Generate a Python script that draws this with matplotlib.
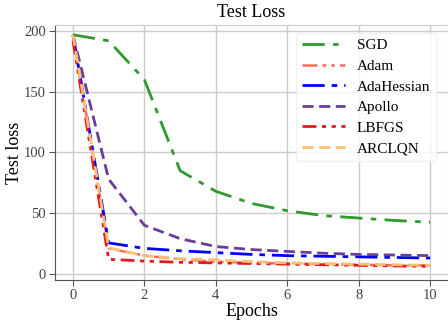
import matplotlib
matplotlib.use("Agg")
import matplotlib.pyplot as plt

epochs = list(range(11))
sgd = [197, 192, 160, 85, 68, 58, 52, 48, 46, 44, 42.5]
adam = [197, 21, 15, 12, 10, 9, 8.5, 8, 7.5, 7, 7]
adahessian = [197, 25.5, 21, 19, 17.5, 16, 15, 14.5, 14, 13.5, 13]
apollo = [197, 78, 40, 29, 22.5, 20, 18.5, 17, 16, 15.5, 15]
lbfgs = [192, 12, 10.5, 9.5, 9, 8.5, 8, 7.5, 7, 6.5, 6.2]
arclqn = [197, 21.5, 15, 12.5, 11.5, 10, 9, 8.5, 8, 7.5, 7]

plt.rcParams['font.family'] = ['Liberation Serif', 'DejaVu Serif']

fig = plt.figure(figsize=(4.48, 3.21), dpi=100)
ax = fig.add_axes([0.123, 0.128, 0.877, 0.794])

ax.plot(epochs, sgd, color='#2e9a2e', linestyle=(0, (8, 3, 2, 3)), lw=2, label='SGD')
ax.plot(epochs, adam, color='#fa6e60', linestyle=(0, (6, 2, 1.5, 2, 1.5, 2)), lw=1.8, label='Adam')
ax.plot(epochs, adahessian, color='blue', linestyle=(0, (8, 2.5, 2, 2.5)), lw=2, label='AdaHessian')
ax.plot(epochs, apollo, color='#6a3d9a', linestyle=(0, (4, 2)), lw=2, label='Apollo')
ax.plot(epochs, lbfgs, color='#e31a1c', linestyle=(0, (5, 2, 1.5, 2, 1.5, 2)), lw=2, label='LBFGS')
ax.plot(epochs, arclqn, color='#fdbf6f', linestyle=(0, (4, 2)), lw=2, label='ARCLQN')

ax.set_xlim(-0.5, 10.5)
ax.set_ylim(-5, 205)
ax.set_xticks([0, 2, 4, 6, 8, 10])
ax.set_yticks([0, 50, 100, 150, 200])
ax.grid(color='#cccccc', lw=1)
ax.set_axisbelow(True)
for s in ['top', 'right']:
    ax.spines[s].set_color('#cccccc')
for s in ['left', 'bottom']:
    ax.spines[s].set_color('#555555')
ax.tick_params(colors='#555555', labelcolor='#444444', labelsize=10.5, length=4, pad=2.5)

ax.set_title('Test Loss', fontsize=13)
ax.set_xlabel('Epochs', fontsize=13, labelpad=1)
ax.set_ylabel('Test loss', fontsize=13, labelpad=1)
ax.legend(loc='upper right', bbox_to_anchor=(0.99, 1.0), fontsize=11, framealpha=0.8,
          edgecolor='#eeeeee', handlelength=2.8, borderpad=0.4, labelspacing=0.45)

fig.savefig('out.png', dpi=100)
